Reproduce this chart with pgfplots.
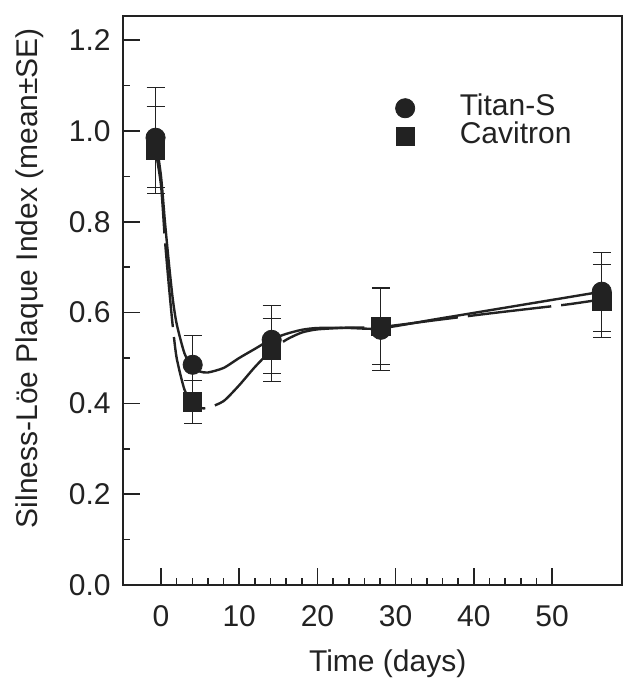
\documentclass[border=0pt]{standalone}
\usepackage{fontspec}
\setmainfont{Liberation Sans}
\usepackage{pgfplots}
\usepackage{pgfplotstable}
\pgfplotsset{compat=1.18}
\definecolor{ink}{HTML}{222222}

% day, mean, SE
\pgfplotstableread{
x     y      ey
-0.7  0.985  0.110
4.05  0.485  0.065
14.15 0.540  0.075
28.1  0.562  0.090
56.35 0.646  0.087
}\titan
\pgfplotstableread{
x     y      ey
-0.7  0.958  0.095
4.05  0.403  0.047
14.15 0.518  0.070
28.1  0.570  0.085
56.35 0.625  0.080
}\cavitron

\begin{document}
\begin{tikzpicture}
\path[use as bounding box] (-61.35pt,-51pt) rectangle (251.15pt,292.5pt);
\begin{axis}[
  at={(0,0)}, anchor=south west,
  scale only axis, width=249.5pt, height=284.25pt,
  xmin=-4.9, xmax=58.9, ymin=0, ymax=1.252,
  axis line style={ink, line width=1pt},
  tick style={ink, line width=0.8pt},
  tick align=inside,
  xtick pos=left, ytick pos=left,
  major tick length=8.5pt, minor tick length=3.5pt,
  xtick={0,10,20,30,40,50}, xticklabels={0,10,20,30,40,50},
  minor x tick num=4,
  ytick={0,0.2,0.4,0.6,0.8,1.0,1.2},
  yticklabels={0.0,0.2,0.4,0.6,0.8,1.0,1.2},
  minor y tick num=1,
  tick label style={font=\fontsize{15}{18}\selectfont, text=ink},
  yticklabel style={xshift=-2.5pt},
  xticklabel style={yshift=-6.5pt},
  xlabel={Time (days)},
  ylabel={Silness-Löe Plaque Index (mean±SE)},
  label style={font=\fontsize{15}{18}\selectfont, text=ink},
  xlabel style={at={(axis description cs:0.531,-0.153)}, anchor=base},
  ylabel style={at={(axis description cs:-0.17,0.54)}, anchor=base},
  legend style={at={(axis description cs:0.534,0.871)}, anchor=north west,
    draw=none, fill=none, font=\fontsize{15}{18}\selectfont, text=ink,
    nodes={inner sep=0pt, text height=10.5pt, text depth=3.5pt},
    row sep=0pt,
    /tikz/every odd column/.append style={column sep=22.5pt}},
  legend cell align=left,
]
\addlegendimage{only marks, mark=*, mark size=4.8pt, ink}
\addlegendentry{Titan-S}
\addlegendimage{only marks, mark=square*, mark size=4.6pt, ink}
\addlegendentry{Cavitron}

% fitted curves
\addplot[ink, line width=1.2pt, smooth, tension=0.4] coordinates {
  (-0.7,0.985) (0,0.90) (0.5,0.80) (1,0.71) (1.5,0.63) (2,0.575) (3,0.51)
  (4,0.48) (5,0.47) (6,0.468) (8,0.478) (10,0.50) (12,0.52) (14,0.54)
  (16,0.553) (18,0.562) (20,0.566) (24,0.566) (28,0.565) (35,0.585)
  (42,0.605) (49,0.625) (56,0.645)};
\addplot[ink, line width=1.2pt, smooth, tension=0.4, dash pattern=on 42pt off 5pt] coordinates {
  (-0.7,0.958) (0,0.88) (0.5,0.76) (1,0.66) (1.5,0.57) (2,0.50) (3,0.43)
  (4,0.40) (5,0.39) (6,0.39) (8,0.405) (10,0.44) (12,0.48) (14,0.515)
  (16,0.54) (18,0.556) (20,0.563) (24,0.567) (28,0.568) (35,0.583)
  (42,0.598) (48,0.61) (52,0.618) (56,0.628)};

% means with SE bars
\addplot[only marks, mark=*, mark size=4.8pt, ink,
  error bars/.cd, y dir=both, y explicit,
  error bar style={line width=0.5pt, ink},
  error mark options={rotate=90, mark size=4.5pt, line width=0.5pt, ink}]
  table[x=x, y=y, y error=ey] {\titan};
\addplot[only marks, mark=square*, mark size=4.6pt, ink,
  error bars/.cd, y dir=both, y explicit,
  error bar style={line width=0.5pt, ink},
  error mark options={rotate=90, mark size=4.5pt, line width=0.5pt, ink}]
  table[x=x, y=y, y error=ey] {\cavitron};
\end{axis}
\end{tikzpicture}
\end{document}
